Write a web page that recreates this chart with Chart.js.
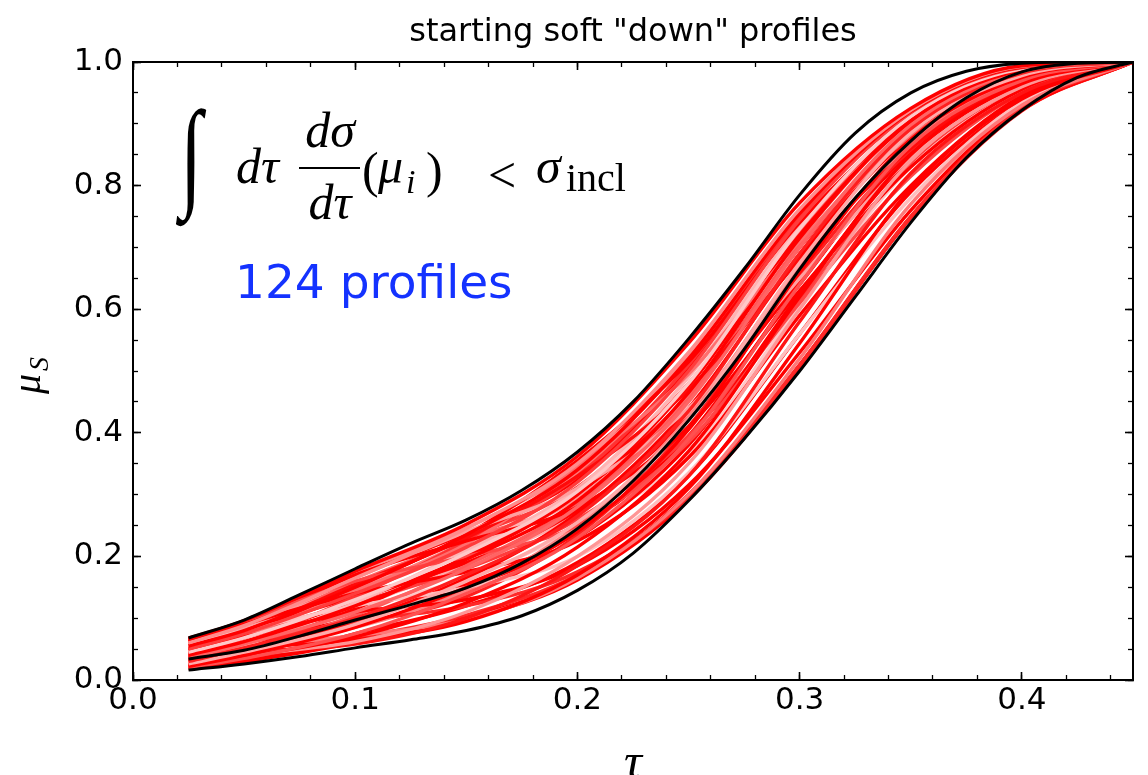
<!DOCTYPE html>
<html><head><meta charset="utf-8">
<script src="https://cdn.jsdelivr.net/npm/chart.js@4.4.1/dist/chart.umd.min.js"></script>
<style>html,body{margin:0;padding:0;background:#fff;overflow:hidden}canvas{display:block}</style>
</head><body>
<canvas id="c" width="1148" height="775"></canvas>
<script>
const TITLE = 'starting soft "down" profiles';
const NOTE = '124 profiles';
const X_MIN = 0, X_MAX = 0.45, Y_MIN = 0, Y_MAX = 1;

// black envelope / central curves
const TAU_BLACK = [0.025,0.05,0.075,0.1,0.125,0.15,0.175,0.2,0.225,0.25,0.275,0.3,0.325,0.35,0.375,0.4,0.425,0.45];
const UPPER  = [0.068,0.097,0.138,0.180,0.221,0.259,0.307,0.369,0.450,0.552,0.665,0.785,0.885,0.950,0.985,0.998,1.000,1.000];
const MIDDLE = [0.034,0.048,0.071,0.097,0.122,0.149,0.189,0.245,0.322,0.420,0.535,0.665,0.780,0.872,0.942,0.984,0.998,1.000];
const LOWER  = [0.016,0.026,0.038,0.052,0.065,0.080,0.104,0.145,0.205,0.290,0.390,0.500,0.620,0.740,0.845,0.922,0.975,1.000];

// red profiles (sampled at TAU_RED)
const TAU_RED = [0.025,0.05,0.1,0.15,0.2,0.25,0.3,0.35,0.4,0.45];
const P01 = [.066,.096,.176,.252,.362,.545,.772,.925,.994,1];
const P02 = [.060,.088,.165,.245,.350,.530,.762,.922,.993,1];
const P03 = [.055,.080,.150,.235,.340,.520,.755,.920,.992,1];
const P04 = [.050,.075,.140,.215,.320,.500,.745,.918,.991,1];
const P05 = [.045,.068,.130,.205,.305,.480,.730,.912,.989,1];
const P06 = [.040,.062,.120,.195,.290,.465,.715,.905,.987,1];
const P07 = [.035,.058,.110,.180,.280,.450,.700,.898,.985,1];
const P08 = [.030,.052,.100,.170,.265,.435,.690,.892,.982,1];
const P09 = [.026,.045,.090,.160,.255,.420,.675,.885,.978,1];
const P10 = [.022,.040,.085,.150,.240,.405,.660,.875,.975,1];
const P11 = [.020,.035,.075,.140,.230,.390,.640,.865,.970,1];
const P12 = [.024,.038,.070,.125,.215,.370,.620,.850,.965,1];
const P13 = [.028,.040,.062,.110,.200,.350,.600,.840,.960,1];
const P14 = [.032,.045,.058,.100,.185,.330,.580,.820,.950,1];
const P15 = [.036,.050,.065,.095,.170,.310,.545,.795,.940,1];
const P16 = [.040,.052,.072,.098,.165,.300,.520,.770,.930,1];
const P17 = [.045,.060,.095,.120,.175,.295,.510,.750,.925,1];
const P18 = [.050,.070,.110,.130,.185,.315,.530,.760,.928,1];
const P19 = [.058,.080,.120,.150,.200,.335,.560,.780,.935,1];
const P20 = [.064,.090,.140,.175,.225,.360,.590,.800,.945,1];
const P21 = [.068,.095,.160,.200,.250,.385,.610,.815,.950,1];
const P22 = [.062,.090,.170,.225,.280,.410,.630,.830,.955,1];
const P23 = [.054,.085,.165,.240,.310,.440,.650,.845,.960,1];
const P24 = [.048,.078,.155,.230,.330,.470,.680,.860,.968,1];
const P25 = [.042,.070,.145,.220,.345,.495,.710,.880,.975,1];
const P26 = [.038,.068,.150,.235,.355,.515,.740,.905,.985,1];
const P27 = [.034,.060,.135,.225,.330,.510,.752,.915,.989,1];
const P28 = [.030,.055,.125,.210,.310,.490,.735,.910,.988,1];
const P29 = [.026,.050,.115,.200,.300,.475,.720,.903,.986,1];
const P30 = [.022,.045,.105,.185,.285,.455,.705,.890,.980,1];
const P31 = [.025,.042,.095,.165,.270,.440,.685,.880,.978,1];
const P32 = [.030,.048,.085,.145,.250,.425,.670,.870,.972,1];
const P33 = [.035,.055,.090,.135,.235,.410,.655,.858,.968,1];
const P34 = [.040,.060,.100,.150,.230,.380,.625,.845,.962,1];
const P35 = [.046,.065,.115,.165,.245,.365,.605,.830,.955,1];
const P36 = [.052,.075,.125,.180,.260,.395,.615,.835,.958,1];
const P37 = [.058,.082,.135,.190,.275,.425,.645,.855,.965,1];
const P38 = [.063,.088,.150,.210,.295,.455,.690,.885,.978,1];
const P39 = [.067,.094,.168,.238,.325,.505,.748,.918,.992,1];
const P40 = [.056,.082,.158,.228,.295,.460,.725,.912,.990,1];
const P41 = [.020,.030,.060,.100,.165,.300,.510,.750,.922,1];
const P42 = [.028,.036,.068,.105,.170,.295,.505,.748,.921,1];
const P43 = [.018,.028,.075,.120,.190,.330,.560,.790,.935,1];
const P44 = [.022,.032,.062,.098,.162,.292,.505,.748,.922,1];
const P45 = [.052,.078,.145,.225,.335,.505,.750,.920,.991,1];
const P46 = [.044,.066,.128,.198,.300,.462,.700,.895,.983,1];
const P47 = [.038,.058,.118,.188,.270,.430,.665,.872,.972,1];
const P48 = [.060,.086,.155,.230,.312,.480,.715,.905,.986,1];
const P49 = [.032,.050,.095,.155,.240,.395,.640,.860,.968,1];
const P50 = [.064,.092,.172,.246,.345,.525,.760,.922,.993,1];
const RED_PROFILES = [P01,P02,P03,P04,P05,P06,P07,P08,P09,P10,P11,P12,P13,P14,P15,P16,P17,P18,P19,P20,P21,P22,P23,P24,P25,P26,P27,P28,P29,P30,P31,P32,P33,P34,P35,P36,P37,P38,P39,P40,P41,P42,P43,P44,P45,P46,P47,P48,P49,P50];
const RED_SHADES = [0,140,0,60,200,0,100,30,170,0,80,0,150,20,0,120,40,0,190,0,70,0,160,10,110,0,50,180,0,90,0,130,30,0,200,60,0,150,0,100,0,40,0,0,120,0,170,60,0,140];

const datasets = [];
RED_PROFILES.forEach((p, k) => {
  const s = RED_SHADES[k];
  datasets.push({
    data: TAU_RED.map((t, i) => ({x: t, y: p[i]})),
    borderColor: `rgb(255,${s},${s})`, borderWidth: 3.4, pointRadius: 0,
    cubicInterpolationMode: 'monotone', order: 1, xAxisID: 'x', yAxisID: 'y'
  });
});
[UPPER, MIDDLE, LOWER].forEach(arr => {
  datasets.push({
    data: TAU_BLACK.map((t, i) => ({x: t, y: arr[i]})),
    borderColor: '#000', borderWidth: 3, pointRadius: 0,
    cubicInterpolationMode: 'monotone', order: 0, xAxisID: 'x', yAxisID: 'y'
  });
});

const tickFont = {family: 'DejaVu Sans', size: 31};
const gridMajor = (len) => ({drawOnChartArea: false, drawTicks: true, tickLength: len, tickColor: '#000', tickWidth: 1.6});
const border = {display: true, color: '#000', width: 2};

const annot = {
  id: 'annot',
  afterDraw(chart) {
    const c = chart.ctx;
    c.save();
    c.fillStyle = '#000';
    c.textBaseline = 'alphabetic';
    c.textAlign = 'left';
    // formula
    c.save();
    c.translate(180, 194);
    c.scale(1, 1.5);
    c.font = 'italic 80px "Liberation Serif"';
    c.fillText('∫', 0, 0);
    c.restore();
    c.font = 'italic 50px "Liberation Serif"';
    c.fillText('dτ', 236, 183);
    c.textAlign = 'center';
    c.fillText('dσ', 330, 147);
    c.fillText('dτ', 330, 219);
    c.fillRect(299, 167, 61, 2);
    c.textAlign = 'left';
    c.font = '50px "Liberation Serif"';
    c.fillText('(', 362, 187);
    c.font = 'italic 50px "Liberation Serif"';
    c.fillText('μ', 378, 183);
    c.font = 'italic 34px "Liberation Serif"';
    c.fillText('i', 406, 193);
    c.font = '50px "Liberation Serif"';
    c.fillText(')', 426, 187);
    c.fillText('<', 488, 192);
    c.font = 'italic 50px "Liberation Serif"';
    c.fillText('σ', 536, 183);
    c.font = '40px "Liberation Serif"';
    c.fillText('incl', 566, 191);
    // blue note
    c.font = '47px "DejaVu Sans"';
    c.fillStyle = 'rgb(20,50,255)';
    c.fillText(NOTE, 235, 298);
    // y-axis title
    c.fillStyle = '#000';
    c.translate(40, 394);
    c.rotate(-Math.PI / 2);
    c.font = 'italic 40px "Liberation Serif"';
    c.fillText('μ', 0, 0);
    c.font = 'italic 28px "Liberation Serif"';
    c.fillText('S', 23, 8);
    c.restore();
  }
};

new Chart(document.getElementById('c'), {
  type: 'line',
  data: {datasets},
  options: {
    responsive: false, animation: false, devicePixelRatio: 1,
    layout: {padding: 0},
    plugins: {
      legend: {display: false}, tooltip: {enabled: false},
      title: {display: true, text: TITLE, fullSize: false, color: '#000',
        font: {family: 'DejaVu Sans', size: 32, weight: 'normal'}, padding: {top: 13, bottom: 10.6}}
    },
    scales: {
      x: {type: 'linear', position: 'bottom', min: X_MIN, max: X_MAX,
        ticks: {stepSize: 0.1, autoSkip: false, maxRotation: 0, includeBounds: false, padding: 10, color: '#000', font: tickFont,
          callback: v => v.toFixed(1)},
        grid: gridMajor(-8), border,
        title: {display: true, text: 'τ', color: '#000', font: {family: 'Liberation Serif', style: 'italic', size: 50, lineHeight: 0.4}, padding: {top: 0, bottom: 0}},
        afterFit: s => { s.height = 95; }},
      x2: {type: 'linear', position: 'top', min: X_MIN, max: X_MAX,
        ticks: {display: false, stepSize: 0.1, includeBounds: false},
        grid: gridMajor(-8), border, afterFit: s => { s.height = 0; }},
      y: {type: 'linear', position: 'left', min: Y_MIN, max: Y_MAX,
        ticks: {stepSize: 0.2, padding: 18, color: '#000', font: tickFont, callback: v => v.toFixed(1)},
        grid: gridMajor(-8), border, afterFit: s => { s.width = 133; }},
      y2: {type: 'linear', position: 'right', min: Y_MIN, max: Y_MAX,
        ticks: {display: false, stepSize: 0.2},
        grid: gridMajor(-8), border, afterFit: s => { s.width = 15; }},
      xm1: {type: 'linear', axis: 'x', position: {y: 0}, min: X_MIN, max: X_MAX,
        ticks: {display: false, stepSize: 0.02, autoSkip: false, includeBounds: false},
        grid: {drawOnChartArea: false, tickLength: -5, tickColor: '#000', tickWidth: 1.3}, border: {display: false}},
      xm2: {type: 'linear', axis: 'x', position: {y: 1}, min: X_MIN, max: X_MAX,
        ticks: {display: false, stepSize: 0.02, autoSkip: false, includeBounds: false},
        grid: {drawOnChartArea: false, tickLength: 5, tickColor: '#000', tickWidth: 1.3}, border: {display: false}},
      ym1: {type: 'linear', axis: 'y', position: {x: 0}, min: Y_MIN, max: Y_MAX,
        ticks: {display: false, stepSize: 0.05, autoSkip: false},
        grid: {drawOnChartArea: false, tickLength: -5, tickColor: '#000', tickWidth: 1.3}, border: {display: false}},
      ym2: {type: 'linear', axis: 'y', position: {x: X_MAX}, min: Y_MIN, max: Y_MAX,
        ticks: {display: false, stepSize: 0.05, autoSkip: false},
        grid: {drawOnChartArea: false, tickLength: 5, tickColor: '#000', tickWidth: 1.3}, border: {display: false}}
    }
  },
  plugins: [annot]
});
</script>
</body></html>
